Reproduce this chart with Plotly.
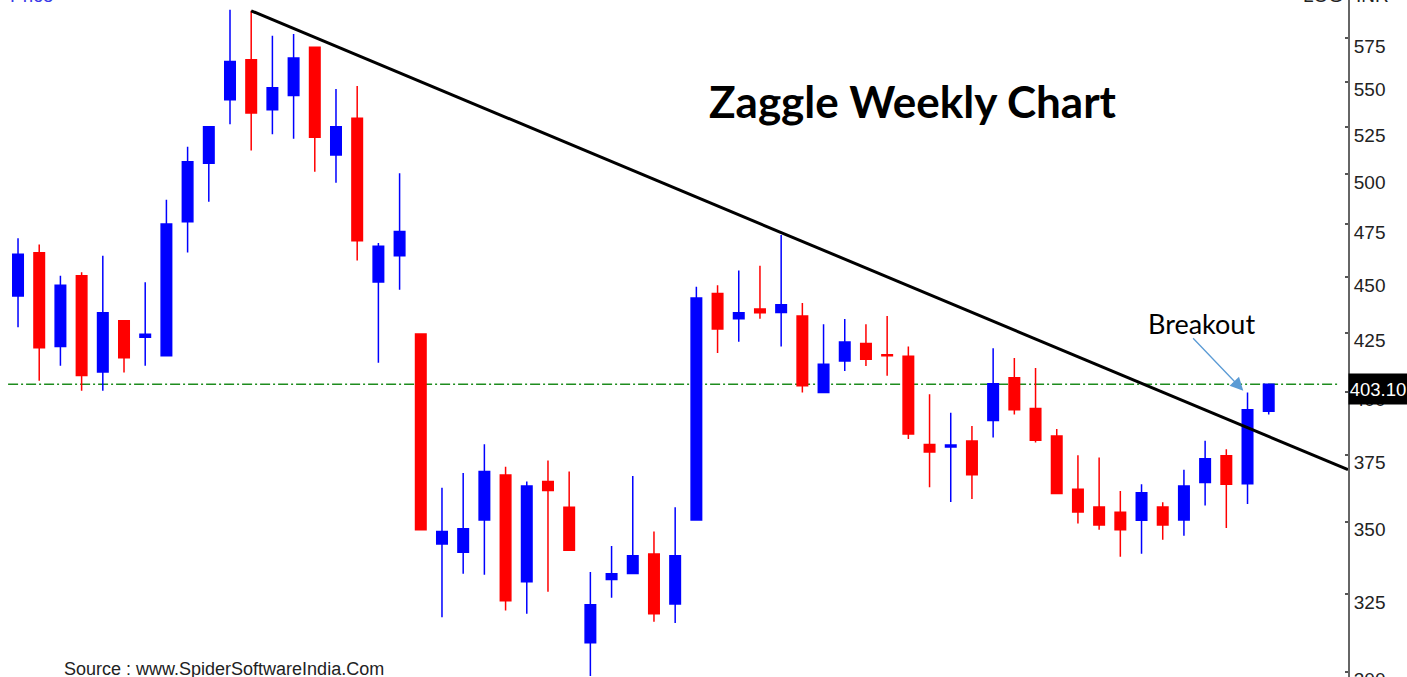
import math
import plotly.graph_objects as go

# ---------------- data ----------------
weeks = list(range(60))

open_ = [441.3, 461.4, 419.0, 450.6, 408.2, 430.2, 423.0, 415.0, 476.3, 505.8,
         539.8, 562.5, 534.3, 542.2, 569.8, 510.1, 529.7, 447.7, 459.9, 424.4,
         342.1, 339.2, 350.6, 367.2, 329.1, 364.8, 355.2, 309.1, 329.8, 331.9,
         338.6, 321.6, 350.6, 442.5, 431.1, 435.5, 433.9, 432.3, 399.7, 412.8,
         420.3, 415.5, 414.8, 378.9, 377.9, 380.2, 388.3, 405.8, 393.2, 382.2,
         361.9, 355.3, 353.4, 350.5, 355.3, 350.6, 364.4, 374.5, 363.9, 392.0]

high = [468.3, 465.3, 450.6, 452.2, 459.9, 430.2, 447.6, 487.2, 514.4, 525.5,
        592.1, 591.5, 576.6, 577.6, 569.8, 545.8, 547.6, 466.0, 500.6, 424.4,
        362.4, 368.0, 379.0, 370.3, 364.8, 372.7, 368.5, 332.4, 341.4, 366.8,
        346.5, 355.2, 445.5, 446.2, 453.0, 455.2, 469.9, 438.2, 428.7, 431.0,
        428.7, 432.3, 419.0, 399.0, 391.4, 386.2, 418.3, 414.1, 409.9, 385.0,
        374.7, 373.9, 361.2, 363.7, 357.1, 369.2, 380.3, 377.0, 399.7, 403.1]

low = [427.4, 404.5, 410.8, 400.4, 400.4, 408.0, 410.8, 415.0, 461.5, 486.2,
       526.4, 512.5, 521.1, 518.6, 501.4, 495.7, 457.7, 412.1, 444.1, 347.1,
       317.3, 331.8, 331.4, 319.5, 318.4, 325.7, 339.9, 298.7, 323.7, 331.9,
       315.8, 315.4, 350.6, 416.2, 421.0, 431.1, 419.0, 399.7, 399.7, 408.6,
       410.7, 406.6, 381.0, 362.6, 357.2, 358.3, 381.6, 390.7, 379.7, 360.3,
       349.4, 347.1, 337.6, 338.7, 343.6, 345.0, 355.9, 347.7, 356.4, 390.7]

close = [460.7, 418.5, 446.2, 406.7, 433.8, 414.2, 424.3, 475.2, 506.5, 525.1,
         561.5, 532.5, 546.6, 563.5, 519.5, 525.1, 467.1, 464.4, 471.5, 347.1,
         346.5, 347.5, 368.5, 322.7, 363.1, 361.4, 339.9, 321.4, 331.8, 338.0,
         318.4, 338.0, 440.4, 426.6, 433.8, 433.8, 437.4, 402.5, 411.4, 420.9,
         413.5, 415.0, 383.0, 376.0, 378.7, 367.3, 403.3, 392.7, 380.5, 360.3,
         353.5, 348.8, 347.1, 360.6, 348.8, 363.1, 373.4, 363.7, 392.6, 403.1]

ytick_vals = [300, 325, 350, 375, 400, 425, 450, 475, 500, 525, 550, 575]
ytick_text = [str(v) for v in ytick_vals]

last_price = 403.10
last_label = "403.10"

trend_x = [11, 62.74]
trend_y = [591.5, 369.2]

breakout_x = 57.8
breakout_y = 400.4

title_text = "Zaggle Weekly Chart"
breakout_text = "Breakout"
source_text = "Source : www.SpiderSoftwareIndia.Com"

# ---------------- layout constants ----------------
W, H = 1407, 677
ML, MR = 0, 59
PLOT_W = W - ML - MR
X_RANGE = [-0.85, 62.74]
Y_PRICE_RANGE = [298.4, 598.1]

NARROW = "Liberation Sans Narrow, Liberation Sans, Arial, sans-serif"

fig = go.Figure()

fig.add_trace(go.Candlestick(
    x=weeks, open=open_, high=high, low=low, close=close,
    increasing=dict(line=dict(color="#0000FF", width=1.5), fillcolor="#0000FF"),
    decreasing=dict(line=dict(color="#FF0000", width=1.5), fillcolor="#FF0000"),
    whiskerwidth=0, showlegend=False, hoverinfo="skip",
))

fig.add_trace(go.Scatter(
    x=trend_x, y=trend_y, mode="lines",
    line=dict(color="black", width=3), showlegend=False, hoverinfo="skip",
))

# horizontal dash-dot line at the last price (behind candles)
fig.add_shape(type="line", xref="paper", x0=0.006, x1=0.992,
              yref="y", y0=last_price, y1=last_price, layer="below",
              line=dict(color="#1E8C1E", width=1.6, dash="10px,3px,2px,3px"))


def px_x(p):
    return (p - ML) / PLOT_W


def px_y(p):
    return 1 - p / H


annotations = [
    dict(text="<b>%s</b>" % title_text, xref="paper", yref="paper",
         x=px_x(912.5), y=px_y(101), xanchor="center", yanchor="middle",
         showarrow=False, font=dict(family="Lato", size=44, color="black")),
    dict(text=breakout_text, xref="paper", yref="paper",
         x=px_x(1201), y=px_y(324), xanchor="center", yanchor="middle",
         showarrow=False, font=dict(family="Lato", size=27, color="black")),
    dict(text="", xref="x", yref="y", x=breakout_x, y=math.log10(breakout_y),
         ax=-51.6, ay=-54, showarrow=True, arrowhead=2, arrowsize=2,
         arrowwidth=1.3, arrowcolor="#5B9BD5", standoff=0),
    dict(text=last_label, xref="paper", yref="y", x=1.0, y=math.log10(last_price),
         xanchor="left", yanchor="middle", yshift=-5, showarrow=False,
         bgcolor="black", borderpad=0, width=58, height=30, align="center",
         font=dict(family=NARROW, size=18.5, color="white")),
    dict(text=source_text, xref="paper", yref="paper", x=px_x(62), y=0,
         xanchor="left", yanchor="bottom", yshift=-4, showarrow=False,
         font=dict(family=NARROW, size=18, color="#222")),
    dict(text="Price", xref="paper", yref="paper", x=px_x(8), y=1,
         xanchor="left", yanchor="bottom", yshift=-8, showarrow=False,
         font=dict(family=NARROW, size=19, color="#3A3AE8")),
    dict(text="LOG", xref="paper", yref="paper", x=px_x(1345), y=1,
         xanchor="right", yanchor="bottom", yshift=-8, showarrow=False,
         font=dict(family=NARROW, size=19, color="#222")),
    dict(text="INR", xref="paper", yref="paper", x=px_x(1354), y=1,
         xanchor="left", yanchor="bottom", yshift=-8, showarrow=False,
         font=dict(family=NARROW, size=19, color="#222")),
]

fig.update_layout(
    width=W, height=H, autosize=False,
    margin=dict(l=ML, r=MR, t=0, b=0, pad=0, autoexpand=False),
    paper_bgcolor="white", plot_bgcolor="white",
    showlegend=False, boxgap=0.38, boxgroupgap=0.2,
    annotations=annotations,
    xaxis=dict(range=X_RANGE, visible=False, showgrid=False, zeroline=False,
               automargin=False, rangeslider=dict(visible=False)),
    yaxis=dict(type="log", range=[math.log10(v) for v in Y_PRICE_RANGE],
               side="right", tickmode="array", tickvals=ytick_vals, ticktext=ytick_text,
               ticks="inside", ticklen=3, tickwidth=1.5, tickcolor="#555",
               showline=True, linecolor="#666", linewidth=2, showgrid=False,
               zeroline=False, ticklabelshift=8, ticklabelstandoff=0,
               ticklabeloverflow="allow", automargin=False,
               tickfont=dict(family=NARROW, size=19, color="#222")),
)

fig.write_html("out.html", config={"displayModeBar": False})
